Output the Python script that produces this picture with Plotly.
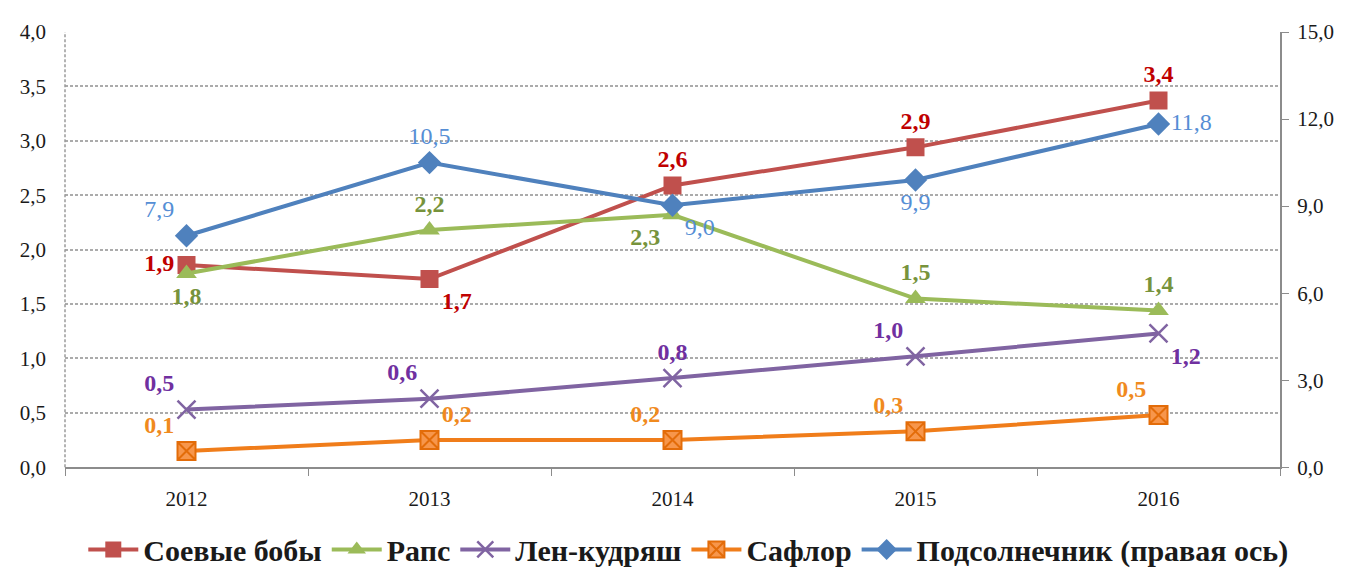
import plotly.graph_objects as go

years = ["2012", "2013", "2014", "2015", "2016"]

soy = [1.86, 1.73, 2.59, 2.94, 3.37]
soy_labels = ["1,9", "1,7", "2,6", "2,9", "3,4"]

rapeseed = [1.78, 2.18, 2.32, 1.55, 1.44]
rapeseed_labels = ["1,8", "2,2", "2,3", "1,5", "1,4"]

flax = [0.53, 0.63, 0.82, 1.02, 1.23]
flax_labels = ["0,5", "0,6", "0,8", "1,0", "1,2"]

safflower = [0.15, 0.25, 0.25, 0.33, 0.48]
safflower_labels = ["0,1", "0,2", "0,2", "0,3", "0,5"]

sunflower = [7.98, 10.5, 9.03, 9.9, 11.83]
sunflower_labels = ["7,9", "10,5", "9,0", "9,9", "11,8"]

SERIF = "Times New Roman, Liberation Serif, serif"

fig = go.Figure()

fig.add_trace(go.Scatter(
    x=years, y=soy, name="<b>Соевые бобы</b>",
    mode="lines+markers+text", text=soy_labels,
    textposition=["middle left", "bottom right", "top center", "top center", "top center"],
    textfont=dict(family=SERIF, size=24, color="#C00000", weight="bold"),
    line=dict(color="#C0504D", width=4),
    marker=dict(symbol="square", size=18, color="#C0504D"),
))

fig.add_trace(go.Scatter(
    x=years, y=rapeseed, name="<b>Рапс</b>",
    mode="lines+markers+text", text=rapeseed_labels,
    textposition=["bottom center", "top center", "bottom left", "top center", "top center"],
    textfont=dict(family=SERIF, size=24, color="#77933C", weight="bold"),
    line=dict(color="#9BBB59", width=4),
    marker=dict(symbol="triangle-up", size=18, color="#9BBB59"),
))

fig.add_trace(go.Scatter(
    x=years, y=flax, name="<b>Лен-кудряш</b>",
    mode="lines+markers+text", text=flax_labels,
    textposition=["top left", "top left", "top center", "top left", "bottom right"],
    textfont=dict(family=SERIF, size=24, color="#7030A0", weight="bold"),
    line=dict(color="#8064A2", width=4),
    marker=dict(symbol="x-thin-open", size=18, color="#8064A2", line=dict(width=2.5, color="#8064A2")),
))

fig.add_trace(go.Scatter(
    x=years, y=safflower, name="<b>Сафлор</b>",
    mode="lines+markers+text", text=safflower_labels,
    textposition=["top left", "top right", "top left", "top left", "top left"],
    textfont=dict(family=SERIF, size=24, color="#F08A1E", weight="bold"),
    line=dict(color="#F07D1A", width=4),
    marker=dict(symbol="square-x", size=18, color="#F7964B", line=dict(width=2, color="#E36C09")),
))

fig.add_trace(go.Scatter(
    x=years, y=sunflower, name="<b>Подсолнечник (правая ось)</b>", yaxis="y2",
    mode="lines+markers+text", text=sunflower_labels,
    textposition=["top left", "top center", "bottom right", "bottom center", "middle right"],
    textfont=dict(family=SERIF, size=24, color="#558ED5"),
    line=dict(color="#4F81BD", width=4),
    marker=dict(symbol="diamond", size=18, color="#4F81BD"),
))

# dashed left border of the plot area
fig.add_shape(type="line", xref="paper", yref="paper", x0=0, x1=0, y0=0, y1=1,
              line=dict(color="#9A9A9A", width=1.5, dash="3px,2px"))

# page body has an 8px margin, so the figure is a bit smaller than the window
fig.update_layout(
    width=1341, height=567,
    margin=dict(l=55, r=69, t=16, b=107),
    paper_bgcolor="white", plot_bgcolor="white",
    separators=", ",
    showlegend=True,
    legend=dict(orientation="h", x=0.513, xanchor="center",
                yref="container", y=0.045, yanchor="middle",
                font=dict(family=SERIF, size=30, color="#1a1a1a"),
                itemwidth=50, tracegroupgap=0),
    xaxis=dict(
        type="category", range=[-0.5, 4.5],
        tickson="boundaries", ticks="outside", ticklen=7, tickcolor="#8C8C8C",
        showline=True, linecolor="#8C8C8C", linewidth=2,
        showgrid=False, ticklabelstandoff=12,
        tickfont=dict(family=SERIF, size=21, color="#1a1a1a"),
    ),
    yaxis=dict(
        range=[0, 4], dtick=0.5, tickformat=".1f",
        showgrid=True, gridcolor="#ABABAB", gridwidth=1.5, griddash="3px,2px",
        zeroline=False, showline=False, ticks="", ticklabelstandoff=18,
        tickfont=dict(family=SERIF, size=21, color="#1a1a1a"),
    ),
    yaxis2=dict(
        overlaying="y", side="right", range=[0, 15], dtick=3, tickformat=".1f",
        showgrid=False, zeroline=False,
        showline=True, linecolor="#8C8C8C", linewidth=2,
        ticks="outside", ticklen=7, tickcolor="#8C8C8C", ticklabelstandoff=4,
        tickfont=dict(family=SERIF, size=21, color="#1a1a1a"),
    ),
)

fig.write_html("out.html")
